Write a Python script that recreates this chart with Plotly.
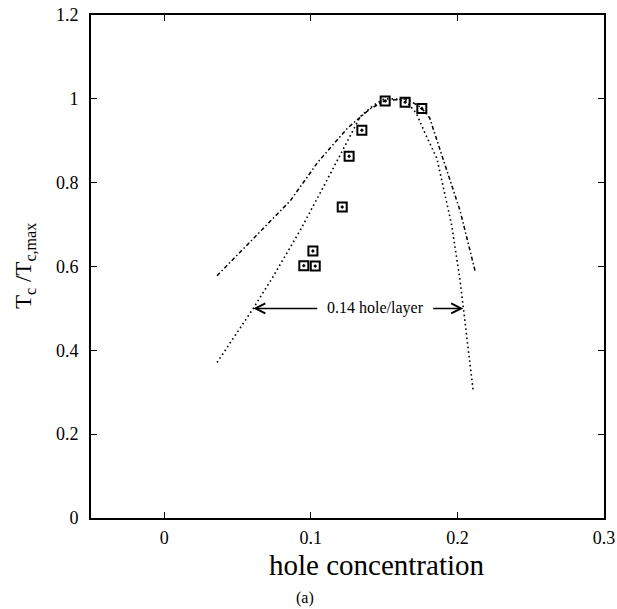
import plotly.graph_objects as go

# Experimental points (open squares)
exp_x = [0.0952, 0.1014, 0.1030, 0.1214, 0.1261, 0.1348, 0.1507, 0.1643, 0.1757]
exp_y = [0.602, 0.637, 0.601, 0.742, 0.863, 0.925, 0.995, 0.992, 0.977]

# Dotted curve
dot_x = [0.036, 0.0607, 0.0734, 0.0927, 0.111, 0.1245, 0.1336, 0.1425, 0.150, 0.157, 0.165, 0.172, 0.178, 0.186, 0.196, 0.2018, 0.2064, 0.2107]
dot_y = [0.371, 0.500, 0.571, 0.686, 0.806, 0.894, 0.957, 0.984, 1.000, 1.000, 0.995, 0.965, 0.917, 0.858, 0.700, 0.567, 0.432, 0.305]

# Dash-dot curve
dd_x = [0.036, 0.060, 0.086, 0.105, 0.125, 0.140, 0.150, 0.165, 0.175, 0.181, 0.190, 0.2018, 0.212]
dd_y = [0.578, 0.665, 0.757, 0.850, 0.930, 0.975, 0.995, 1.000, 0.980, 0.955, 0.857, 0.733, 0.590]

x_ticks = [0, 0.1, 0.2, 0.3]
x_ticktext = ["0", "0.1", "0.2", "0.3"]
y_ticks = [0, 0.2, 0.4, 0.6, 0.8, 1.0, 1.2]
y_ticktext = ["0", "0.2", "0.4", "0.6", "0.8", "1", "1.2"]

arrow_left = 0.0607
arrow_right = 0.2040
arrow_y = 0.5
label_x = 0.1439
label_half = 0.0375   # half-gap around the label, data units

FONT = "Liberation Serif, Times New Roman, serif"

W, H = 617, 609
L, R, T, B = 91, 13, 15, 91
PLOT_LEFT, PLOT_BOTTOM = 91, 518
pw, ph = W - L - R, H - T - B

fig = go.Figure()
fig.add_trace(go.Scatter(x=dd_x, y=dd_y, mode="lines",
                         line=dict(color="black", width=1.5, dash="4px,2.5px,1.5px,2.5px"),
                         showlegend=False, hoverinfo="skip"))
fig.add_trace(go.Scatter(x=dot_x, y=dot_y, mode="lines",
                         line=dict(color="black", width=1.6, dash="1.6px,3px"),
                         showlegend=False, hoverinfo="skip"))
fig.add_trace(go.Scatter(x=exp_x, y=exp_y, mode="markers",
                         marker=dict(symbol="square-open-dot", size=9, color="black",
                                     line=dict(color="black", width=2)),
                         showlegend=False, hoverinfo="skip"))

axis_common = dict(showline=True, linecolor="black", linewidth=2, mirror="ticks",
                   ticks="inside", ticklen=6, tickcolor="black", tickwidth=1,
                   showgrid=False, zeroline=False, automargin=False,
                   ticklabeloverflow="allow",
                   tickfont=dict(family=FONT, size=18, color="black"))

fig.update_xaxes(range=[-0.05, 0.3], tickvals=x_ticks, ticktext=x_ticktext,
                 ticklabelstandoff=2, **axis_common)
fig.update_yaxes(range=[0, 1.2], tickvals=y_ticks, ticktext=y_ticktext,
                 ticklabelstandoff=7, **axis_common)

# Arrows
fig.add_annotation(x=arrow_left, y=arrow_y, ax=label_x - label_half, ay=arrow_y,
                   xref="x", yref="y", axref="x", ayref="y", text=" ",
                   showarrow=True, arrowhead=5, arrowsize=1.3, arrowwidth=1.5, arrowcolor="black")
fig.add_annotation(x=arrow_right, y=arrow_y, ax=label_x + label_half, ay=arrow_y,
                   xref="x", yref="y", axref="x", ayref="y", text=" ",
                   showarrow=True, arrowhead=5, arrowsize=1.3, arrowwidth=1.5, arrowcolor="black")
fig.add_annotation(x=label_x, y=arrow_y, xref="x", yref="y", text="0.14 hole/layer",
                   xanchor="center", yanchor="middle",
                   showarrow=False, font=dict(family=FONT, size=16, color="black"))


def px_ann(px, py, text, size, angle=0):
    fig.add_annotation(x=(px - PLOT_LEFT) / pw, y=(PLOT_BOTTOM - py) / ph,
                       xref="paper", yref="paper", xanchor="center", yanchor="middle",
                       text=text, textangle=angle, showarrow=False,
                       font=dict(family=FONT, size=size, color="black"))


px_ann(376, 565, "hole concentration", 29)
px_ann(25, 266, "T<sub>c</sub> /T<sub>c,max</sub>", 23, angle=-90)
px_ann(305, 598, "(a)", 16)

fig.update_layout(template="none", width=W, height=H,
                  margin=dict(l=L, r=R, t=T, b=B, autoexpand=False),
                  plot_bgcolor="white", paper_bgcolor="white",
                  hovermode=False, dragmode=False)

fig.write_html("out.html", config={"displayModeBar": False, "staticPlot": True},
               post_script="document.body.style.margin='0';document.body.style.overflow='hidden';")
